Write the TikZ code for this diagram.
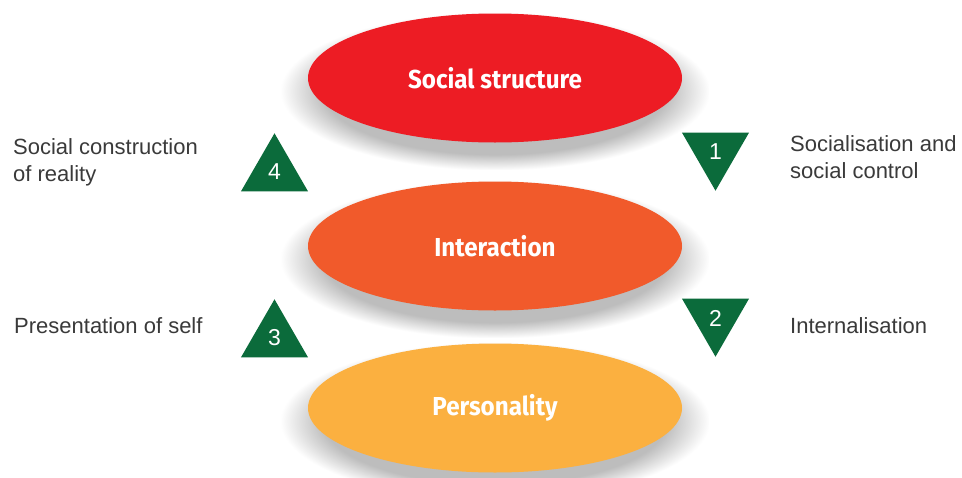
\documentclass[tikz,border=0pt]{standalone}
\usepackage{fontspec}
\setmainfont{Liberation Sans}
\newfontfamily\ellfont{Fira Sans}[FakeStretch=0.93]
\usetikzlibrary{shapes.geometric,fadings}
\definecolor{cred}{HTML}{ED1C24}
\definecolor{corange}{HTML}{F15A2B}
\definecolor{cyellow}{HTML}{FBB040}
\definecolor{cgreen}{HTML}{0B6B3B}
\definecolor{ctext}{HTML}{3A3A3A}
\pgfdeclarelayer{bg}
\pgfsetlayers{bg,main}
\newcommand\myellshadow[1]{%
  \begin{pgfonlayer}{bg}
  \fill[black, opacity=0.26, path fading=circle with fuzzy edge 20 percent]
    ([shift={(-214,-66)}]#1) rectangle ([shift={(214,92)}]#1);
  \end{pgfonlayer}}
\begin{document}
\begin{tikzpicture}[x=1pt,y=-1pt,
  ell/.style={ellipse, minimum width=374pt, minimum height=129pt, inner sep=0pt,
    text=white, font=\ellfont\bfseries\fontsize{26}{30}\selectfont},
  tri/.style={regular polygon, regular polygon sides=3, minimum size=77.4pt, inner sep=0pt,
    fill=cgreen, text=white, font=\fontsize{23}{26}\selectfont},
  tridown/.style={tri, shape border rotate=180},
  lab/.style={text=ctext, font=\fontsize{22}{27}\selectfont, align=left, inner sep=0pt}]
\begin{pgfonlayer}{bg}
\fill[white] (0,0) rectangle (962,477);
\end{pgfonlayer}
\useasboundingbox (0,0) rectangle (962,477);
\node[ell, fill=cred] (ss) at (495,78) {Social structure};
\node[ell, fill=corange] (ia) at (495,246) {Interaction};
\node[ell, fill=cyellow] (pe) at (495,408) {Personality};
\myellshadow{ss.center}
\myellshadow{ia.center}
\myellshadow{pe.center}
\node[tri] (t4) at (274.5,172) {4};
\node[tridown] (t1) at (715.5,152) {1};
\node[tri] (t3) at (274.5,338) {3};
\node[tridown] (t2) at (715.5,318) {2};
\node[lab, anchor=base west] (l4) at (13,181) {Social construction\\of reality};
\node[lab, anchor=base west] (l1) at (790,178) {Socialisation and\\social control};
\node[lab, anchor=base west] (l3) at (14,333) {Presentation of self};
\node[lab, anchor=base west] (l2) at (790,333) {Internalisation};
\end{tikzpicture}
\end{document}
